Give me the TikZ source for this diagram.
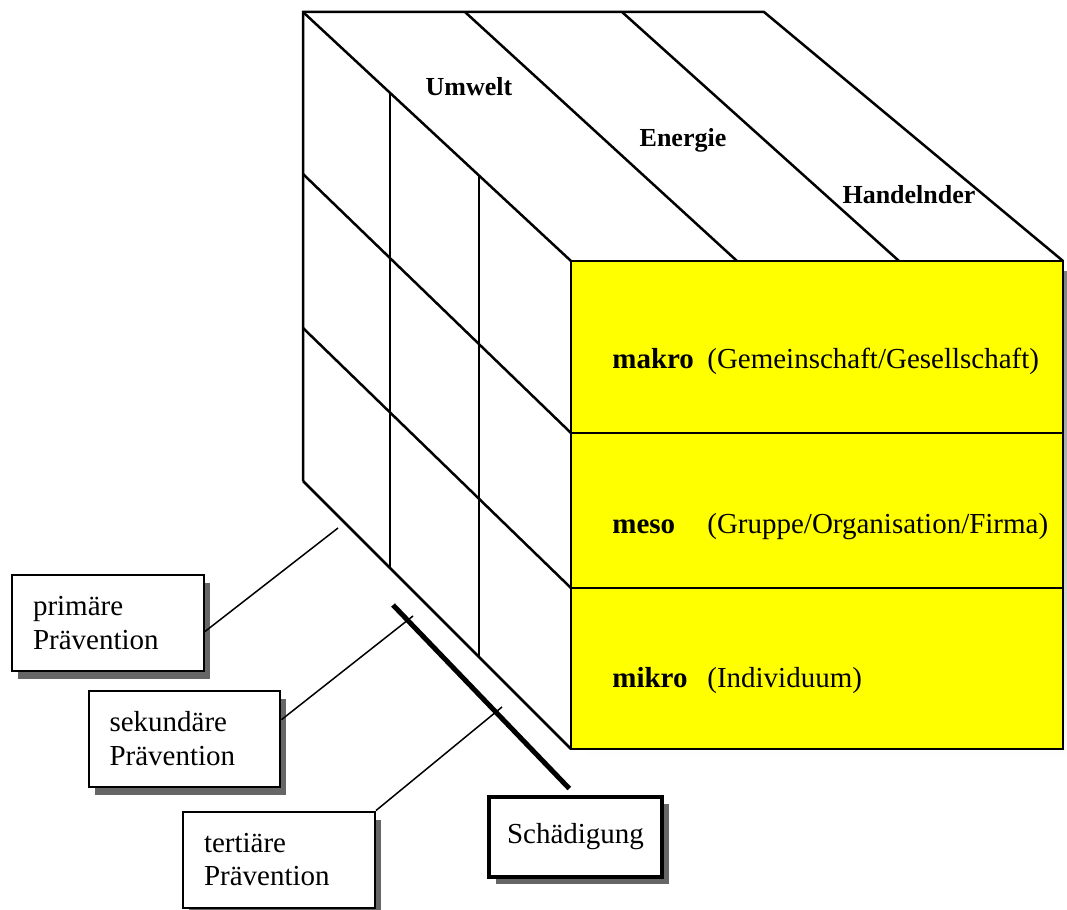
\documentclass[tikz,border=0pt]{standalone}
\usepackage{fontspec}
\setmainfont{Liberation Serif}
\usetikzlibrary{shadows}
\definecolor{faceyellow}{RGB}{255,255,0}
\definecolor{shade}{RGB}{102,102,102}

\begin{document}
\begin{tikzpicture}[x=0.02cm, y=-0.02cm,
  cube/.style = {line width=0.05cm},
  leader/.style = {line width=0.03cm},
  facet/.style = {font=\bfseries\fontsize{14.8}{17}\selectfont, anchor=base, inner sep=0pt},
  tier/.style = {font=\fontsize{16.5}{19}\selectfont, anchor=base west, inner sep=0pt},
  prev/.style = {draw, fill=white, line width=0.04cm, text width=3cm, inner xsep=0.42cm,
    minimum height=1.92cm, align=left, font=\fontsize{16.5}{19}\selectfont,
    drop shadow={shadow xshift=0.12cm, shadow yshift=-0.16cm, fill=shade, opacity=1}}]
\useasboundingbox (0,0) rectangle (1067,909);
% left and top face
\draw[cube] (303,481) -- (303,12) -- (764,12) -- (1063,261);
\draw[cube] (303,12) -- (571,261);
\draw[cube] (465,12) -- (737,261);
\draw[cube] (622,12) -- (899,261);
\draw[cube] (303,174) -- (571,433);
\draw[cube] (303,328) -- (571,588);
\draw[cube] (303,481) -- (571,749);
\draw[cube] (390,94) -- (390,569);
\draw[cube] (479,175) -- (479,658);
% front face
\fill[shade] (587,271) rectangle (1067,759);
\draw[cube, fill=faceyellow] (571,261) rectangle (1063,749);
\draw[cube] (571,433) -- (1063,433);
\draw[cube] (571,588) -- (1063,588);
\node[facet] (umw) at (469,95) {Umwelt};
\node[facet] (ene) at (683,146) {Energie};
\node[facet] (han) at (909,203) {Handelnder};
\node[tier] (mak) at (612,368) {\textbf{makro}};
\node[tier] (makt) at (707,368) {(Gemeinschaft/Gesellschaft)};
\node[tier] (mes) at (612,533) {\textbf{meso}};
\node[tier] (mest) at (707,533) {(Gruppe/Organisation/Firma)};
\node[tier] (mik) at (612,687) {\textbf{mikro}};
\node[tier] (mikt) at (707,687) {(Individuum)};
% prevention labels
\node[prev] (prim) at (108,623) {primäre\\Prävention};
\node[prev] (sek) at (184.5,738.5) {sekundäre\\Prävention};
\node[prev] (tert) at (279,859.5) {tertiäre\\Prävention};
\node[draw, fill=white, line width=0.08cm, minimum width=3.46cm, minimum height=1.6cm,
  font=\fontsize{16.5}{19}\selectfont,
  drop shadow={shadow xshift=0.14cm, shadow yshift=-0.14cm, fill=shade, opacity=1}]
  (schad) at (575.5,837) {Schädigung};
\coordinate (p1) at (338,528);
\coordinate (p2) at (413,616);
\coordinate (p3) at (502,707);
\coordinate (s1) at (393,605);
\path[leader] (prim.-5) edge (p1);
\path[leader] (sek.11) edge (p2);
\path[leader] (tert.north east) edge (p3);
\draw[line width=0.1cm, shorten >=0.18cm] (s1) -- (schad.north);
\end{tikzpicture}
\end{document}
